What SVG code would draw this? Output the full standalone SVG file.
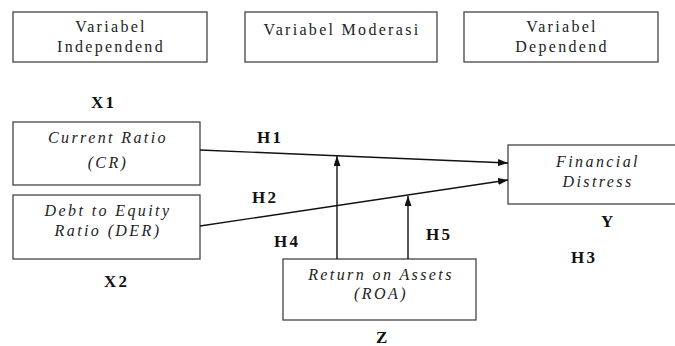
<svg xmlns="http://www.w3.org/2000/svg" width="675" height="346" viewBox="0 0 675 346">
  <defs>
    <marker id="arr" viewBox="0 0 10 7" refX="10" refY="3.5" markerWidth="10" markerHeight="7" markerUnits="userSpaceOnUse" orient="auto">
      <path d="M0,0 L10,3.5 L0,7 z" fill="#111"/>
    </marker>
    <style>
      .box { fill: #fff; stroke: #444; stroke-width: 1.3; }
      text { font-family: 'Liberation Serif', 'DejaVu Serif', 'Times New Roman', serif; }
      .hdr { font-size: 16px; letter-spacing: 2.3px; fill: #222; text-anchor: middle; }
      .it { font-size: 16px; font-style: italic; letter-spacing: 2.4px; fill: #222; text-anchor: middle; }
      .lbl { font-size: 17px; font-weight: bold; letter-spacing: 2.2px; fill: #111; }
      .conn { stroke: #111; stroke-width: 1.4; fill: none; }
    </style>
  </defs>
  <rect width="675" height="346" fill="#fff"/>

  <g id="hdr-independent">
    <rect class="box" x="13" y="12" width="194" height="50"/>
    <text class="hdr" x="111" y="32">Variabel</text>
    <text class="hdr" x="111" y="52">Independend</text>
  </g>
  <g id="hdr-moderasi">
    <rect class="box" x="245" y="12" width="192" height="50"/>
    <text class="hdr" x="342" y="35">Variabel Moderasi</text>
  </g>
  <g id="hdr-dependent">
    <rect class="box" x="464" y="12" width="194" height="50"/>
    <text class="hdr" x="562" y="32">Variabel</text>
    <text class="hdr" x="562" y="52">Dependend</text>
  </g>

  <g id="node-cr">
    <rect class="box" x="13" y="122" width="187" height="63"/>
    <text class="it" x="108" y="143">Current Ratio</text>
    <text class="it" x="108" y="168">(CR)</text>
  </g>
  <g id="node-der">
    <rect class="box" x="13" y="195" width="187" height="64"/>
    <text class="it" x="108" y="216">Debt to Equity</text>
    <text class="it" x="108" y="236">Ratio (DER)</text>
  </g>
  <g id="node-roa">
    <rect class="box" x="283" y="259" width="193" height="61"/>
    <text class="it" x="381" y="280">Return on Assets</text>
    <text class="it" x="381" y="299">(ROA)</text>
  </g>
  <g id="node-fd">
    <rect class="box" x="508" y="145" width="180" height="59"/>
    <text class="it" x="598" y="167">Financial</text>
    <text class="it" x="598" y="187">Distress</text>
  </g>

  <g id="connectors">
    <line class="conn" x1="200" y1="150" x2="508" y2="163" marker-end="url(#arr)"/>
    <line class="conn" x1="200" y1="226" x2="508" y2="180" marker-end="url(#arr)"/>
    <line class="conn" x1="337" y1="259" x2="337" y2="156" marker-end="url(#arr)"/>
    <line class="conn" x1="408" y1="259" x2="408" y2="196" marker-end="url(#arr)"/>
  </g>

  <g id="labels">
    <text class="lbl" x="91" y="108">X1</text>
    <text class="lbl" x="104" y="287">X2</text>
    <text class="lbl" x="376" y="343">Z</text>
    <text class="lbl" x="601" y="227">Y</text>
    <text class="lbl" x="257" y="143">H1</text>
    <text class="lbl" x="252" y="203">H2</text>
    <text class="lbl" x="571" y="263">H3</text>
    <text class="lbl" x="274" y="247">H4</text>
    <text class="lbl" x="426" y="240">H5</text>
  </g>
</svg>
